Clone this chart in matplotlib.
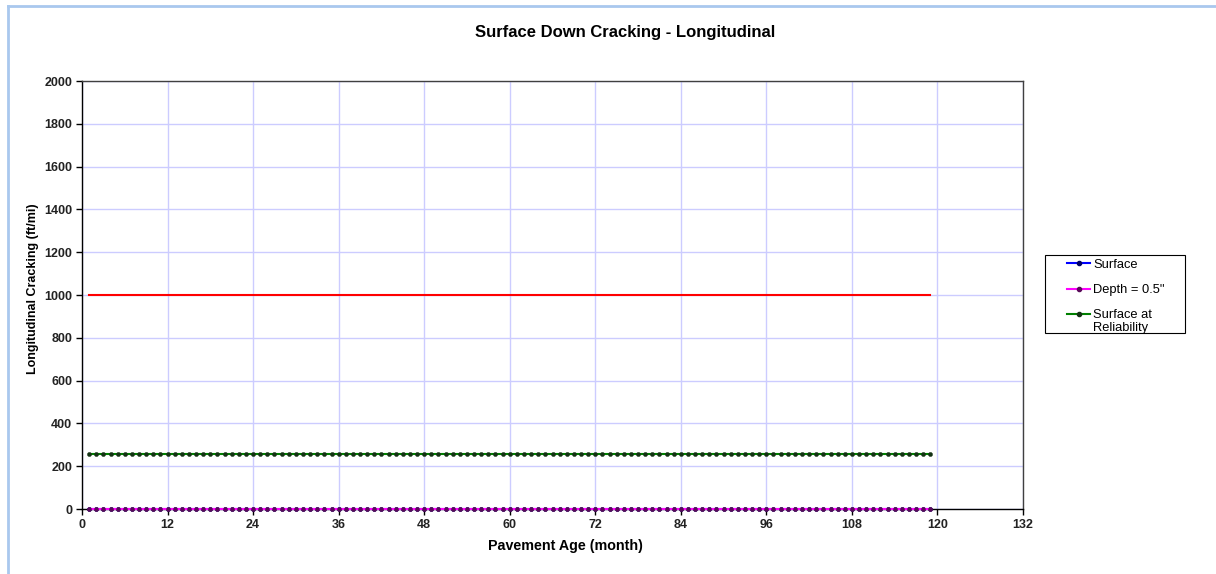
import matplotlib
matplotlib.use("Agg")
import matplotlib.pyplot as plt
from matplotlib.lines import Line2D
from matplotlib.patches import Rectangle

plt.rcParams['font.family'] = ['Liberation Sans', 'DejaVu Sans']

months = list(range(1, 120))
surface = [0.0] * len(months)
depth_05 = [0.0] * len(months)
surface_reliability = [255.0] * len(months)
limit_months = [1, 119]
limit_value = [1000, 1000]

x_ticks = list(range(0, 133, 12))
y_ticks = list(range(0, 2001, 200))

series_labels = ['Surface', 'Depth = 0.5"', 'Surface at\nReliability']
series_colors = ['#0000ff', '#ff00ff', '#008000']
marker_colors = ['#000066', '#5a0a5a', '#143214']

W, H = 1216, 574
fig = plt.figure(figsize=(W / 100, H / 100), dpi=100)
ax = fig.add_axes([82 / W, 1 - 509 / H, (1023 - 82) / W, (509 - 81) / H])

ax.plot(limit_months, limit_value, color='#ff0000', lw=1.5, zorder=3)
for vals, col, mcol, z in zip([surface, depth_05, surface_reliability],
                              series_colors, marker_colors, [4, 5, 5]):
    ax.plot(months, vals, color=col, lw=1.5, marker='o', ms=3, mew=0.3,
            mfc=mcol, mec=mcol, zorder=z, clip_on=False)

ax.set_xlim(0, 132)
ax.set_ylim(0, 2000)
ax.set_xticks(x_ticks)
ax.set_yticks(y_ticks)
ax.grid(True, color='#ccccff', lw=1)
ax.set_axisbelow(True)
for s in ax.spines.values():
    s.set_color('#404040')
    s.set_linewidth(1.0)
ax.spines['left'].set_color('#000000')
ax.spines['bottom'].set_color('#000000')
ax.tick_params(axis='both', direction='out', length=4, width=1, labelsize=9,
               colors='#000000', labelcolor='#222222', pad=3)
for lab in ax.get_xticklabels() + ax.get_yticklabels():
    lab.set_fontweight('bold')

fig.text(565 / W, 1 - 546 / H, 'Pavement Age (month)', ha='center', va='center',
         fontsize=10.3, fontweight='bold')
fig.text(33 / W, 1 - 289 / H, 'Longitudinal Cracking (ft/mi)', ha='center', va='center',
         rotation=90, fontsize=9, fontweight='bold')
fig.text(625 / W, 1 - 33 / H, 'Surface Down Cracking - Longitudinal', ha='center', va='center',
         fontsize=12, fontweight='bold')

# legend (drawn manually to match box geometry)
fig.add_artist(Rectangle((1045 / W, 1 - 333 / H), 140 / W, 78 / H, transform=fig.transFigure,
                         facecolor='white', edgecolor='#000000', lw=0.8))
legend_y = [263, 289, 314]
for lab, col, mcol, yy in zip(series_labels, series_colors, marker_colors, legend_y):
    fy = 1 - yy / H
    fig.add_artist(Line2D([1067 / W, 1090 / W], [fy, fy], color=col, lw=1.5,
                          transform=fig.transFigure))
    fig.add_artist(Line2D([1078.5 / W], [fy], marker='o', ms=3, mfc=mcol, mec=mcol,
                          transform=fig.transFigure))
    fig.text(1093 / W, 1 - (yy - 4.5) / H, lab, ha='left', va='top', fontsize=9.3,
             linespacing=1.0)

# chart border
border_color = '#a9c8ee'
fig.add_artist(Line2D([8 / W, 8 / W], [0, 1 - 6 / H], color=border_color, lw=2, transform=fig.transFigure))
fig.add_artist(Line2D([8 / W, 1], [1 - 6 / H, 1 - 6 / H], color=border_color, lw=2, transform=fig.transFigure))

fig.savefig('out.png', dpi=100)
